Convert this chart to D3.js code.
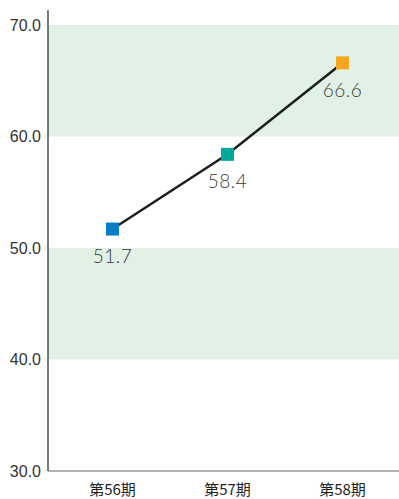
<!DOCTYPE html>
<html>
<head>
<meta charset="utf-8">
<script src="https://cdn.jsdelivr.net/npm/d3@7"></script>
<style>
  html, body { margin: 0; padding: 0; background: #fff; }
  svg { display: block; }
</style>
</head>
<body>
<svg id="chart" width="399" height="499"></svg>
<script>
// Data
const periods = ["第56期", "第57期", "第58期"];
const values = [51.7, 58.4, 66.6];
const markerColors = ["#0a7cc7", "#00a99c", "#f6a521"];
const yTicks = [30, 40, 50, 60, 70];
const shadedBands = [[40, 50], [60, 70]];

(function () {
  const svg = d3.select("#chart");
  const plotLeft = 48, plotRight = 399, plotTop = 25, plotBottom = 471;

  const x = d3.scaleBand().domain(periods).range([55, 400]);
  const y = d3.scaleLinear().domain([30, 70]).range([plotBottom, plotTop]);

  // Alternating shaded bands
  svg.append("g").selectAll("rect").data(shadedBands).join("rect")
    .attr("x", plotLeft)
    .attr("width", plotRight - plotLeft)
    .attr("y", d => y(d[1]))
    .attr("height", d => y(d[0]) - y(d[1]))
    .attr("fill", "#e1f1e5");

  // Y axis
  const yAxis = svg.append("g")
    .attr("transform", `translate(${plotLeft},0)`)
    .call(d3.axisLeft(y).tickValues(yTicks).tickFormat(d3.format(".1f")).tickSize(0).tickPadding(7));
  yAxis.select(".domain").remove();
  yAxis.selectAll("text")
    .attr("fill", "#333")
    .style("font-family", "'Liberation Sans', Arial, sans-serif")
    .style("font-size", "16px");
  svg.append("line")
    .attr("x1", plotLeft).attr("x2", plotLeft)
    .attr("y1", 10).attr("y2", plotBottom)
    .attr("stroke", "#222").attr("stroke-width", 1.2);

  // X axis
  const xAxis = svg.append("g")
    .attr("transform", `translate(0,${plotBottom})`)
    .call(d3.axisBottom(x).tickSize(0).tickPadding(13));
  xAxis.select(".domain").remove();
  xAxis.selectAll("text")
    .attr("fill", "#222")
    .style("font-family", "'Noto Sans CJK JP', sans-serif")
    .style("font-size", "15px");
  svg.append("line")
    .attr("x1", plotLeft).attr("x2", plotRight)
    .attr("y1", plotBottom).attr("y2", plotBottom)
    .attr("stroke", "#666").attr("stroke-width", 1.2);

  const cx = d => x(d) + x.bandwidth() / 2;

  // Line
  svg.append("path")
    .datum(values)
    .attr("fill", "none")
    .attr("stroke", "#1e1e1e")
    .attr("stroke-width", 2.5)
    .attr("d", d3.line().x((d, i) => cx(periods[i])).y(d => y(d)));

  // Square markers
  const ms = 13;
  svg.append("g").selectAll("rect").data(values).join("rect")
    .attr("x", (d, i) => cx(periods[i]) - ms / 2)
    .attr("y", d => y(d) - ms / 2)
    .attr("width", ms).attr("height", ms)
    .attr("fill", (d, i) => markerColors[i]);

  // Value labels
  svg.append("g").selectAll("text").data(values).join("text")
    .attr("x", (d, i) => cx(periods[i]))
    .attr("y", d => y(d) + 34)
    .attr("text-anchor", "middle")
    .attr("fill", "#3a3a3a")
    .style("font-family", "'URW Gothic', 'Century Gothic', 'Lato', sans-serif")
    .style("font-weight", "300")
    .style("font-size", "19px")
    .style("letter-spacing", "0.5px")
    .text(d => d.toFixed(1));
})();
</script>
</body>
</html>
